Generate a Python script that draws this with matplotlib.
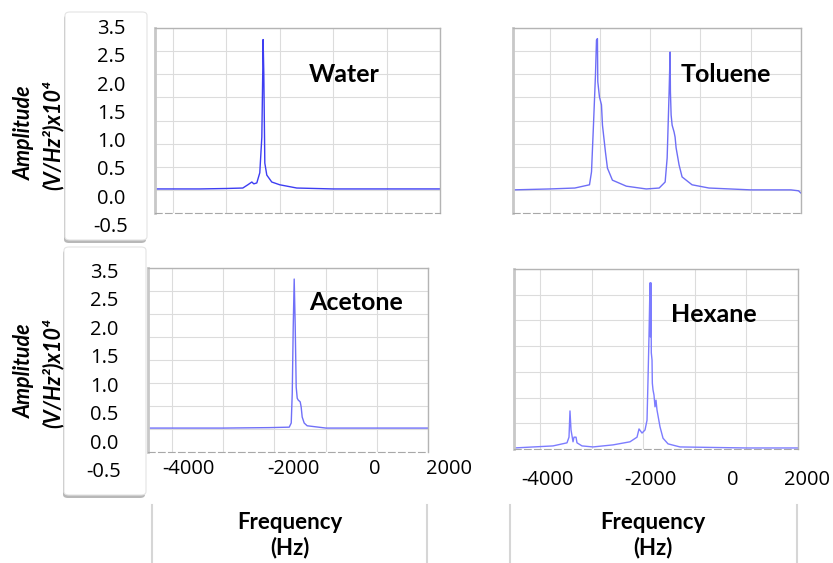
import numpy as np
import matplotlib
matplotlib.use("Agg")
import matplotlib.pyplot as plt
from matplotlib.patches import FancyBboxPatch
from matplotlib.lines import Line2D

plt.rcParams['font.family'] = ['Open Sans', 'DejaVu Sans']
BOLD = ['Lato', 'DejaVu Sans']

# spectra: frequency (Hz), amplitude (V/Hz^2 x10^4)
water_hz = [-4336, -3500, -3000, -2692, -2598, -2523, -2486, -2430, -2374, -2336,
            -2318, -2312, -2299, -2280, -2243, -2150, -2000, -1682, -1000, 0, 1000]
water_amp = [0.02, 0.02, 0.03, 0.04, 0.11, 0.17, 0.13, 0.15, 0.37, 1.14,
             2.60, 3.25, 2.53, 0.58, 0.32, 0.17, 0.11, 0.04, 0.02, 0.02, 0.02]

toluene_hz = [-4730, -4000, -3500, -3208, -3168, -3129, -3089, -3069, -3050, -3043,
              -3010, -2970, -2950, -2891, -2851, -2752, -2475, -2079, -1822, -1703,
              -1663, -1624, -1604, -1598, -1584, -1564, -1525, -1505, -1485, -1426,
              -1366, -1168, -832, 0, 800, 950, 1000]
toluene_amp = [0.00, 0.02, 0.04, 0.11, 0.39, 1.40, 2.49, 3.24, 3.27, 2.34,
               2.01, 1.84, 1.40, 0.82, 0.47, 0.21, 0.08, 0.02, 0.04, 0.17,
               0.69, 2.12, 2.98, 2.12, 1.62, 1.40, 1.25, 1.14, 0.91, 0.54,
               0.28, 0.11, 0.04, 0.00, 0.00, -0.02, -0.07]

acetone_hz = [-4466, -3000, -2100, -1709, -1670, -1650, -1631, -1612, -1592, -1573,
              -1553, -1534, -1495, -1476, -1456, -1417, -1359, -990, 0, 1000]
acetone_amp = [0.02, 0.02, 0.03, 0.04, 0.13, 0.78, 2.22, 3.26, 2.22, 0.91,
               0.67, 0.63, 0.59, 0.48, 0.26, 0.13, 0.07, 0.02, 0.02, 0.02]

hexane_hz = [-4504, -3748, -3477, -3438, -3419, -3399, -3360, -3341, -3302, -3283,
             -3186, -2973, -2585, -2256, -2120, -2081, -2023, -1965, -1926, -1907,
             -1888, -1868, -1862, -1849, -1843, -1829, -1823, -1810, -1791, -1771,
             -1752, -1733, -1674, -1616, -1519, -1287, 0, 1000]
hexane_amp = [0.02, 0.06, 0.12, 0.23, 0.74, 0.37, 0.14, 0.23, 0.23, 0.12,
              0.06, 0.04, 0.08, 0.14, 0.23, 0.39, 0.31, 0.37, 0.56, 1.34,
              2.18, 3.23, 2.18, 3.23, 1.87, 1.73, 1.28, 1.15, 1.05, 0.82,
              0.95, 0.76, 0.43, 0.21, 0.10, 0.04, 0.02, 0.02]

names = ['Water', 'Toluene', 'Acetone', 'Hexane']
ytick_text = ['3.5', '2.5', '2.0', '1.5', '1.0', '0.5', '0.0', '-0.5']
xtick_text = ['-4000', '-2000', '0', '2000']

W, H = 833, 563
fig = plt.figure(figsize=(W / 100, H / 100), dpi=100)


def box(l, t, r, b):
    return [l / W, 1 - b / H, (r - l) / W, (b - t) / H]


def fxy(x, y):
    return x / W, 1 - y / H


def panel(rect, hz, amp, xlim, ylim, color):
    ax = fig.add_axes(box(*rect))
    ax.plot(hz, amp, color=color, lw=1.0)
    ax.set_xlim(xlim)
    ax.set_ylim(ylim)
    ax.set_xticks(np.arange(-4000, 1001, 1000))
    ax.set_yticks(np.arange(ylim[0], 3.51, 0.5))
    ax.tick_params(length=0, labelbottom=False, labelleft=False)
    ax.grid(color='#dcdcdc', lw=0.8)
    ax.set_axisbelow(True)
    for s in ['top', 'right']:
        ax.spines[s].set_color('#b4b4b4')
        ax.spines[s].set_linewidth(1.0)
    ax.spines['left'].set_color('#c8c8c8')
    ax.spines['left'].set_linewidth(2.0)
    ax.spines['bottom'].set_color('#a8a8a8')
    ax.spines['bottom'].set_linestyle((0, (6, 3)))
    return ax


panel((155, 28, 440, 213), water_hz, water_amp, (-4336, 1000), (-0.5, 3.5), '#3d3df2')
panel((513, 28, 801, 213), toluene_hz, toluene_amp, (-4730, 1000), (-0.5, 3.5), '#6e6ef6')
panel((148, 268, 428, 452), acetone_hz, acetone_amp, (-4466, 1000), (-0.5, 3.5), '#7070f8')
panel((514, 269, 798, 449), hexane_hz, hexane_amp, (-4504, 1000), (0.0, 3.5), '#7c7cff')

# panel titles
title_pos = [(344, 75), (726, 74), (356, 302), (714, 314)]
for name, (x, y) in zip(names, title_pos):
    fig.text(*fxy(x, y), name, fontsize=18, fontweight='bold', family=BOLD,
             ha='center', va='center')

# y tick label boxes with shadow
for (l, t, r, b), yt, yb, xc, ycen in [((65, 12, 147, 240), 29, 227, 111, 133),
                                        ((64, 247, 146, 495), 273, 472, 104, 371)]:
    sx, sy = fxy(l - 1, b + 3)
    fig.add_artist(FancyBboxPatch((sx, sy), (r - l) / W, (b - t) / H,
                                  boxstyle='round,pad=0,rounding_size=0.006',
                                  transform=fig.transFigure, fc='#a6a6a6',
                                  ec='none', alpha=0.8, zorder=0))
    bx, by = fxy(l, b)
    fig.add_artist(FancyBboxPatch((bx, by), (r - l) / W, (b - t) / H,
                                  boxstyle='round,pad=0,rounding_size=0.006',
                                  transform=fig.transFigure, fc='white',
                                  ec='#e4e4e4', lw=0.8, zorder=1))
    for lab, y in zip(ytick_text, np.linspace(yt, yb, len(ytick_text))):
        fig.text(*fxy(xc, y), lab, fontsize=14.5, ha='center', va='center', zorder=3)
    fig.text(*fxy(24, ycen), 'Amplitude', rotation=90, fontsize=15.5, family=BOLD,
             fontweight='bold', style='italic', ha='center', va='center')
    fig.text(*fxy(53, ycen + 2), '(V/Hz²)x10⁴', rotation=90, fontsize=15.5, family=BOLD,
             fontweight='bold', style='italic', ha='center', va='center')

# x tick labels and frequency label strips
for xs, yl, (l, r), xc in [([188, 293, 375, 449], 469, (152, 427), 290),
                           ([547, 650, 733, 807], 480, (510, 797), 653)]:
    for lab, x in zip(xtick_text, xs):
        fig.text(*fxy(x, yl), lab, fontsize=14.5, ha='center', va='center')
    for x in (l, r):
        fig.add_artist(Line2D([x / W, x / W], [1 - 505 / H, 0], color='#d6d6d6',
                              lw=1.5, transform=fig.transFigure))
    fig.text(*fxy(xc, 535), 'Frequency\n(Hz)', fontsize=16, fontweight='bold',
             family=BOLD, ha='center', va='center', linespacing=1.2)

fig.savefig('out.png', dpi=100)
